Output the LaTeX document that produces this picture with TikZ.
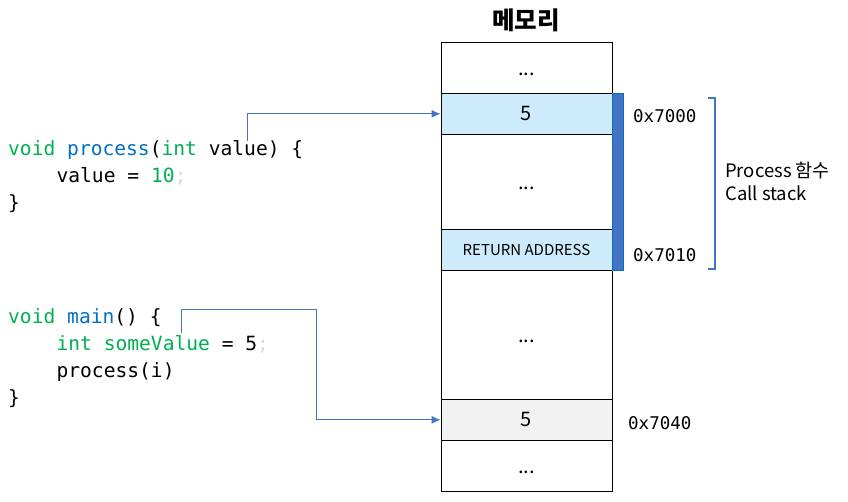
\documentclass[tikz,border=0pt]{standalone}
\usepackage{fontspec}
\setmainfont{Noto Sans CJK KR}
\newfontfamily\codefont{DejaVu Sans Mono}
\usepackage{tikz}
\usetikzlibrary{calc, positioning, arrows, arrows.meta}
\definecolor{codegreen}{HTML}{00B050}
\definecolor{codeblue}{HTML}{0070C0}
\definecolor{semigray}{HTML}{D9D9D9}
\definecolor{cellblue}{HTML}{CDEBFB}
\definecolor{cellgray}{HTML}{F2F2F2}
\definecolor{barblue}{HTML}{4472C4}
\definecolor{linkblue}{HTML}{4472C4}
\tikzstyle{cell}=[draw=black, line width=1pt, minimum width=171pt, inner sep=0pt, font=\fontsize{20}{22}\selectfont]
\tikzstyle{gap}=[text height=15pt, text depth=0pt]
\tikzstyle{code}=[anchor=base west, inner sep=0pt, font=\codefont\fontsize{19.6}{22}\selectfont]
\tikzstyle{addr}=[anchor=west, inner sep=0pt, font=\codefont\fontsize{17.5}{20}\selectfont]
\tikzstyle{link}=[-{Latex[length=9pt, width=8pt]}, draw=linkblue, line width=1pt]

\begin{document}
\begin{tikzpicture}[x=1pt, y=-1pt]
\useasboundingbox (0,0) rectangle (848,501);

\node[font=\fontsize{24.5}{27}\selectfont\bfseries] (T) at (526,20) {메모리};

\node[cell, gap, minimum height=51pt] (M1) at (526.5,67.8) {...};
\node[cell, fill=cellblue, minimum height=41pt] (M2) at (526.5,113.8) {5};
\node[cell, gap, minimum height=95pt] (M3) at (526.5,181.8) {...};
\node[cell, fill=cellblue, minimum height=40.7pt, font=\fontsize{15}{16}\selectfont] (M4) at (526.5,249.7) {RETURN ADDRESS};
\node[cell, gap, minimum height=129.3pt] (M5) at (526.5,334.7) {...};
\node[cell, fill=cellgray, minimum height=41pt] (M6) at (526.5,419.8) {5};
\node[cell, gap, minimum height=50.7pt] (M7) at (526.5,465.7) {...};

\node[fill=barblue, draw=codeblue, line width=0.6pt, inner sep=0pt, minimum width=11pt, minimum height=176.7pt] (B) at (618.2,181.7) {};

\node[addr] (A1) at (633,116) {0x7000};
\node[addr] (A2) at (633,255) {0x7010};
\node[addr] (A3) at (628,423) {0x7040};

\draw[linkblue, line width=1.2pt] (708,98) -- (715,98) -- (715,269) -- (708,269);
\node[anchor=west, align=left, inner sep=0pt, font=\fontsize{18.5}{23}\selectfont] (CS) at (725,181) {Process 함수\\Call stack};

\node[code] (P1) at (8,155.5) {\textcolor{codegreen}{void} \textcolor{codeblue}{process}(\textcolor{codegreen}{int} value) \{};
\node[code] (P2) at (56.4,182.5) {value = \textcolor{codegreen}{10}\textcolor{semigray}{;}};
\node[code] (P3) at (8,209.5) {\}};

\node[code] (Q1) at (8,323.5) {\textcolor{codegreen}{void} \textcolor{codeblue}{main}() \{};
\node[code] (Q2) at (56.4,350.5) {\textcolor{codegreen}{int} \textcolor{codegreen}{someValue} = 5\textcolor{semigray}{;}};
\node[code] (Q3) at (56.4,377.5) {process(i)};
\node[code] (Q4) at (8,404.5) {\}};

\coordinate (s1) at (247,141);
\coordinate (s2) at (181.7,333);
\coordinate (k2) at (316,309);

\draw[link] (s1) |- (M2.west);
\draw[link] (s2) |- (k2) |- (M6.west);
\end{tikzpicture}
\end{document}
